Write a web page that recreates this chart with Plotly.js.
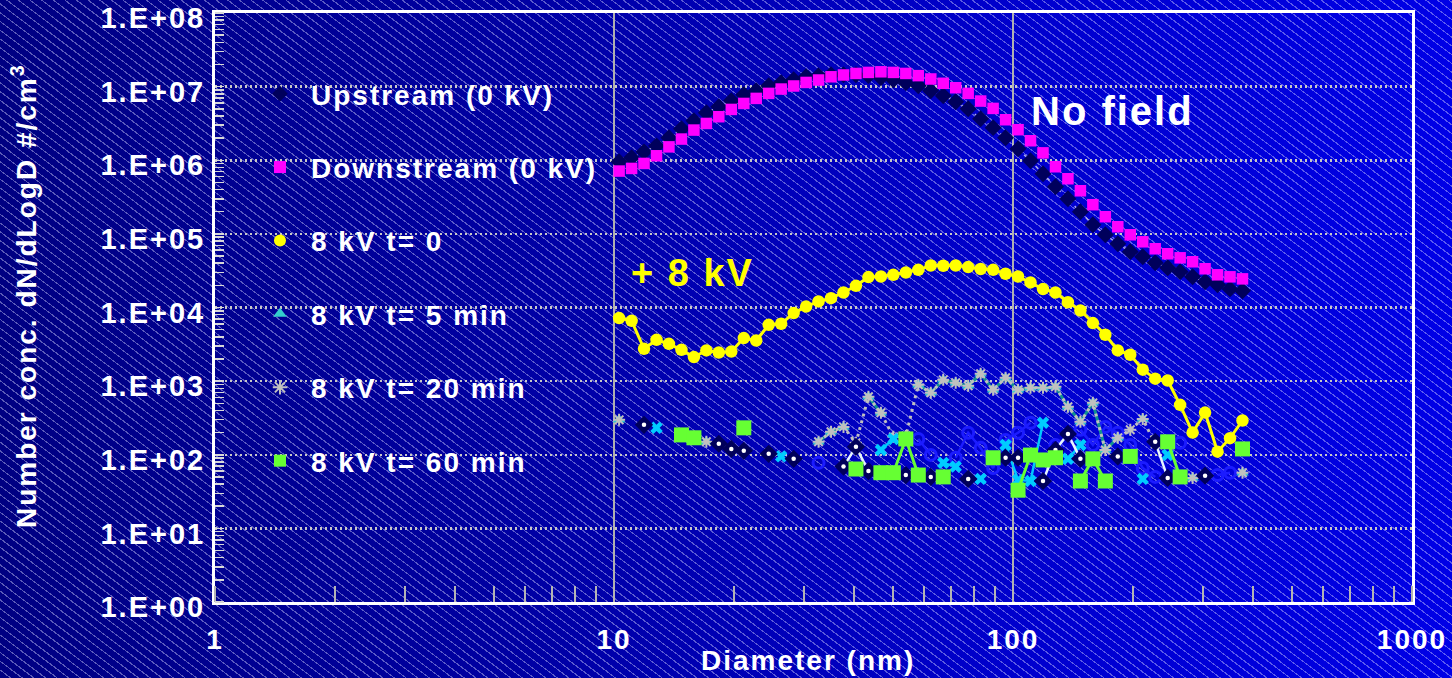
<!DOCTYPE html>
<html>
<head>
<meta charset="utf-8">
<script src="https://cdn.plot.ly/plotly-3.0.1.min.js"></script>
<style>
  html, body { margin: 0; padding: 0; width: 1452px; height: 678px; overflow: hidden; }
  body {
    background-color: #0000b0;
    background-image:
      repeating-linear-gradient(37deg,
        rgba(215,215,255,0) 0px, rgba(215,215,255,0) 5.9px,
        rgba(215,215,255,0.42) 5.9px, rgba(215,215,255,0.42) 7.0px),
      linear-gradient(to right, #000082 0%, #0000a2 35%, #0000cd 70%, #0000e6 100%);
  }
  #chart { width: 1452px; height: 678px; }
  text { letter-spacing: 2px; }
</style>
</head>
<body>
<div id="chart"></div>
<script>
// Mobility diameter of each size channel (nm)
const diameterNm = [10.3, 11.07, 11.89, 12.78, 13.73, 14.76, 15.86, 17.04, 18.31, 19.68,
  21.15, 22.72, 24.42, 26.24, 28.2, 30.3, 32.56, 34.99, 37.6, 40.4,
  43.42, 46.66, 50.14, 53.88, 57.9, 62.22, 66.86, 71.85, 77.21, 82.97,
  89.16, 95.81, 102.96, 110.64, 118.9, 127.77, 137.3, 147.54, 158.55, 170.38,
  183.09, 196.75, 211.43, 227.2, 244.15, 262.37, 281.94, 302.97, 325.58, 349.87,
  375.97];

// dN/dlogD (#/cm3) per channel
const upstream0kV = [9.55e5, 1.08e6, 1.30e6, 1.57e6, 2.02e6, 2.68e6, 3.44e6, 4.42e6, 5.33e6, 6.43e6,
  7.76e6, 8.79e6, 1.03e7, 1.13e7, 1.24e7, 1.36e7, 1.41e7, 1.45e7, 1.45e7, 1.45e7,
  1.41e7, 1.32e7, 1.24e7, 1.13e7, 1.03e7, 8.79e6, 7.52e6, 6.23e6, 5.01e6, 3.66e6,
  2.77e6, 2.02e6, 1.43e6, 9.84e5, 6.56e5, 4.37e5, 3.00e5, 2.00e5, 1.33e5, 9.72e4,
  7.34e4, 5.71e4, 4.89e4, 4.05e4, 3.46e4, 3.05e4, 2.61e4, 2.23e4, 2.03e4, 1.79e4,
  1.69e4];

const downstream0kV = [7.13e5, 7.74e5, 9.05e5, 1.15e6, 1.52e6, 1.94e6, 2.57e6, 3.16e6, 3.90e6, 4.90e6,
  5.91e6, 6.92e6, 8.09e6, 9.27e6, 1.02e7, 1.14e7, 1.23e7, 1.36e7, 1.44e7, 1.51e7,
  1.56e7, 1.59e7, 1.56e7, 1.51e7, 1.41e7, 1.27e7, 1.11e7, 9.66e6, 8.09e6, 6.37e6,
  5.06e6, 3.55e6, 2.60e6, 1.84e6, 1.26e6, 8.16e5, 5.61e5, 3.85e5, 2.49e5, 1.71e5,
  1.25e5, 9.72e4, 7.81e4, 6.28e4, 5.37e4, 4.73e4, 4.18e4, 3.36e4, 2.78e4, 2.61e4,
  2.45e4];

const kv8t0 = [7180, 6590, 2750, 3640, 3210, 2660, 2120, 2610, 2450, 2520,
  3840, 3560, 5820, 6010, 8400, 1.03e4, 1.21e4, 1.34e4, 1.60e4, 1.97e4,
  2.59e4, 2.64e4, 2.78e4, 2.99e4, 3.25e4, 3.72e4, 3.69e4, 3.72e4, 3.54e4, 3.33e4,
  3.25e4, 2.87e4, 2.64e4, 2.19e4, 1.78e4, 1.60e4, 1.18e4, 9100, 6140, 4260,
  2610, 2280, 1430, 1080, 1020, 476, 200, 374, 110, 168,
  292];

const kv8t5 = [298, null, null, null, null, null, null, 150, null, null,
  null, null, null, null, null, null, 150, 205, 239, null,
  612, 371, null, null, 891, 694, 1040, 948, 863, 1257,
  762, 1109, 762, 811, 811, 837, 448, 280, 507, 116,
  170, null, 307, null, null, null, 48.5, null, null, null,
  57];

const kv8t20 = [298, null, null, null, null, null, null, 150, null, null,
  null, null, null, null, null, null, 150, 205, 239, 145,
  612, 371, 175, 180, 891, 694, 1040, 948, 863, 1257,
  762, 1109, 762, 811, 811, 837, 448, 280, 507, 116,
  170, 218, 307, 140, null, null, 48.5, null, null, null,
  57];

const kv8t60 = [null, null, null, null, null, 186, 170, null, null, null,
  232, null, null, null, null, null, null, null, null, 64,
  null, 57, 57, 164, 53, null, 50, null, null, null,
  91, null, 33, 99, 85, 91, null, 44, 88, 44,
  null, 95, null, null, 150, 50, null, null, null, null,
  120];

// Further repeat scans at 8 kV (not listed in the legend)
const scanDiamond = [null, null, 255, null, null, null, null, null, 141, 120,
  113, null, 103, null, 88, null, null, null, 69, 128,
  60, null, null, 53, null, 50, null, null, 47, null,
  null, 91, 91, null, 44, 116, 192, 88, null, null,
  95, null, null, 150, 48.5, null, null, 52, null, null,
  null];

const scanCross = [null, null, null, 232, null, null, null, null, null, null,
  null, null, null, 95, null, null, null, null, null, null,
  null, 116, 164, null, null, null, 77.6, 69, null, 47,
  null, 136, 45.5, 44, 272, null, 88, 136, null, null,
  null, null, 47, null, 99.5, null, null, null, null, null,
  null];

const scanCircle = [null, null, null, null, null, null, null, null, null, null,
  null, null, null, null, null, null, 77.6, null, null, null,
  null, null, null, null, 164, 99.5, null, 91, 199, 124,
  66, 159, 199, 272, null, 136, null, 218, 136, 239,
  199, 136, 66, 50, null, 145, null, null, 53, 57,
  null];

const xTickVals = [1, 10, 100, 1000];
const xTickText = ['1', '10', '100', '1000'];
const yTickVals = [1, 10, 100, 1e3, 1e4, 1e5, 1e6, 1e7, 1e8];
const yTickText = ['1.E+00', '1.E+01', '1.E+02', '1.E+03', '1.E+04', '1.E+05', '1.E+06', '1.E+07', '1.E+08'];

const FONT = 'Liberation Sans, Arial, Helvetica, sans-serif';

const traces = [
  // Upstream (0 kV)
  { x: diameterNm, y: upstream0kV, mode: 'lines', showlegend: false, hoverinfo: 'skip',
    line: { color: 'rgba(205,205,235,0.85)', width: 1.5, dash: '4px,4px' } },
  { x: diameterNm, y: upstream0kV, mode: 'markers', name: 'Upstream (0 kV)', legendgroup: 'g1',
    marker: { symbol: 'diamond', size: 13, color: '#00005c' } },
  // Downstream (0 kV)
  { x: diameterNm, y: downstream0kV, mode: 'markers', name: 'Downstream (0 kV)', legendgroup: 'g2',
    marker: { symbol: 'square', size: 11.5, color: '#ff00ff' } },
  // 8 kV t = 0
  { x: diameterNm, y: kv8t0, mode: 'lines', showlegend: false, hoverinfo: 'skip',
    line: { color: '#ffff00', width: 3 } },
  { x: diameterNm, y: kv8t0, mode: 'markers', name: '8 kV t= 0', legendgroup: 'g3',
    marker: { symbol: 'circle', size: 12.5, color: '#ffff00' } },
  // repeat scan: open circles
  { x: diameterNm, y: scanCircle, mode: 'lines+markers', showlegend: false, hoverinfo: 'skip',
    line: { color: '#1c1cff', width: 2.5 },
    marker: { symbol: 'circle-open', size: 11, color: '#1c1cff', line: { color: '#1c1cff', width: 3 } } },
  // 8 kV t = 5 min
  { x: diameterNm, y: kv8t5, mode: 'lines', showlegend: false, hoverinfo: 'skip',
    line: { color: '#139090', width: 3 } },
  { x: diameterNm, y: kv8t5, mode: 'markers', name: '8 kV t= 5 min', legendgroup: 'g4',
    marker: { symbol: 'triangle-up', size: 11, color: '#33cccc' } },
  // 8 kV t = 20 min
  { x: diameterNm, y: kv8t20, mode: 'lines', showlegend: false, hoverinfo: 'skip',
    line: { color: '#c0c0c0', width: 3, dash: '3px,4px' } },
  { x: diameterNm, y: kv8t20, mode: 'markers', name: '8 kV t= 20 min', legendgroup: 'g5',
    marker: { symbol: 'asterisk-open', size: 10, color: '#c0c0c0', line: { color: '#c0c0c0', width: 2 } } },
  // repeat scan: crosses
  { x: diameterNm, y: scanCross, mode: 'lines+markers', showlegend: false, hoverinfo: 'skip',
    line: { color: '#00c8ff', width: 2.5 },
    marker: { symbol: 'x', size: 11, color: '#00ccff' } },
  // repeat scan: diamonds with white centre
  { x: diameterNm, y: scanDiamond, mode: 'lines', showlegend: false, hoverinfo: 'skip',
    line: { color: '#e6f4ff', width: 2.5 } },
  { x: diameterNm, y: scanDiamond, mode: 'markers', showlegend: false, hoverinfo: 'skip',
    marker: { symbol: 'diamond', size: 14, color: '#00005a' } },
  { x: diameterNm, y: scanDiamond, mode: 'markers', showlegend: false, hoverinfo: 'skip',
    marker: { symbol: 'circle', size: 4.5, color: '#ffffff' } },
  // 8 kV t = 60 min
  { x: diameterNm, y: kv8t60, mode: 'lines', showlegend: false, hoverinfo: 'skip',
    line: { color: '#66ff33', width: 3 } },
  { x: diameterNm, y: kv8t60, mode: 'markers', name: '8 kV t= 60 min', legendgroup: 'g6',
    marker: { symbol: 'square', size: 15, color: '#66ff33' } }
];

const layout = {
  width: 1452,
  height: 678,
  paper_bgcolor: 'rgba(0,0,0,0)',
  plot_bgcolor: 'rgba(0,0,0,0)',
  margin: { l: 215, r: 40, t: 13, b: 76, pad: 0 },
  font: { family: FONT, size: 28, color: '#ffffff', weight: 'bold' },
  showlegend: true,
  legend: {
    x: 0.0284, y: 0.905, xanchor: 'left', yanchor: 'top',
    bgcolor: 'rgba(0,0,0,0)', borderwidth: 0,
    font: { family: FONT, size: 28, color: '#ffffff', weight: 'bold' },
    traceorder: 'grouped', tracegroupgap: 34, itemsizing: 'constant', itemwidth: 52
  },
  xaxis: {
    type: 'log', range: [0, 3],
    tickmode: 'array', tickvals: xTickVals, ticktext: xTickText,
    ticks: '', ticklabelstandoff: 10, ticklabeloverflow: 'allow',
    tickfont: { family: FONT, size: 28, color: '#ffffff', weight: 'bold' },
    showgrid: true, gridcolor: '#b0b0b0', gridwidth: 1.5,
    showline: true, linecolor: '#ffffff', linewidth: 3, mirror: true,
    zeroline: false, fixedrange: true,
    minor: { dtick: 'D1', ticks: 'inside', ticklen: 16, tickwidth: 2, tickcolor: '#b4b4b4', showgrid: false }
  },
  yaxis: {
    type: 'log', range: [0, 8],
    tickmode: 'array', tickvals: yTickVals, ticktext: yTickText,
    ticks: '', ticklabelstandoff: 1, ticklabelshift: 5, ticklabeloverflow: 'allow',
    tickfont: { family: FONT, size: 29, color: '#ffffff', weight: 'bold' },
    showgrid: true, gridcolor: '#c8c8c8', gridwidth: 2.5, griddash: '2px,3px',
    showline: true, linecolor: '#ffffff', linewidth: 3, mirror: true,
    zeroline: false, fixedrange: true,
    minor: { dtick: 'D1', ticks: 'inside', ticklen: 9, tickwidth: 1.5, tickcolor: '#d8d8d8', showgrid: false }
  },
  annotations: [
    { text: 'No field', xref: 'paper', yref: 'paper', x: 0.7494, y: 0.8336,
      xanchor: 'center', yanchor: 'middle', showarrow: false,
      font: { family: FONT, size: 40, color: '#ffffff', weight: 'bold' } },
    { text: '+ 8 kV', xref: 'paper', yref: 'paper', x: 0.3993, y: 0.5586,
      xanchor: 'center', yanchor: 'middle', showarrow: false,
      font: { family: FONT, size: 38, color: '#ffff00', weight: 'bold' } },
    { text: 'Diameter (nm)', xref: 'paper', yref: 'paper', x: 0.4954, y: -0.0985,
      xanchor: 'center', yanchor: 'middle', showarrow: false,
      font: { family: FONT, size: 28, color: '#ffffff', weight: 'bold' } },
    { text: 'Number conc. dN/dLogD #/cm<sup>3</sup>', xref: 'paper', yref: 'paper', x: -0.1595, y: 0.5195,
      xanchor: 'center', yanchor: 'middle', textangle: -90, showarrow: false,
      font: { family: FONT, size: 28, color: '#ffffff', weight: 'bold' } }
  ]
};

Plotly.newPlot('chart', traces, layout, { staticPlot: true, displayModeBar: false });
</script>
</body>
</html>
